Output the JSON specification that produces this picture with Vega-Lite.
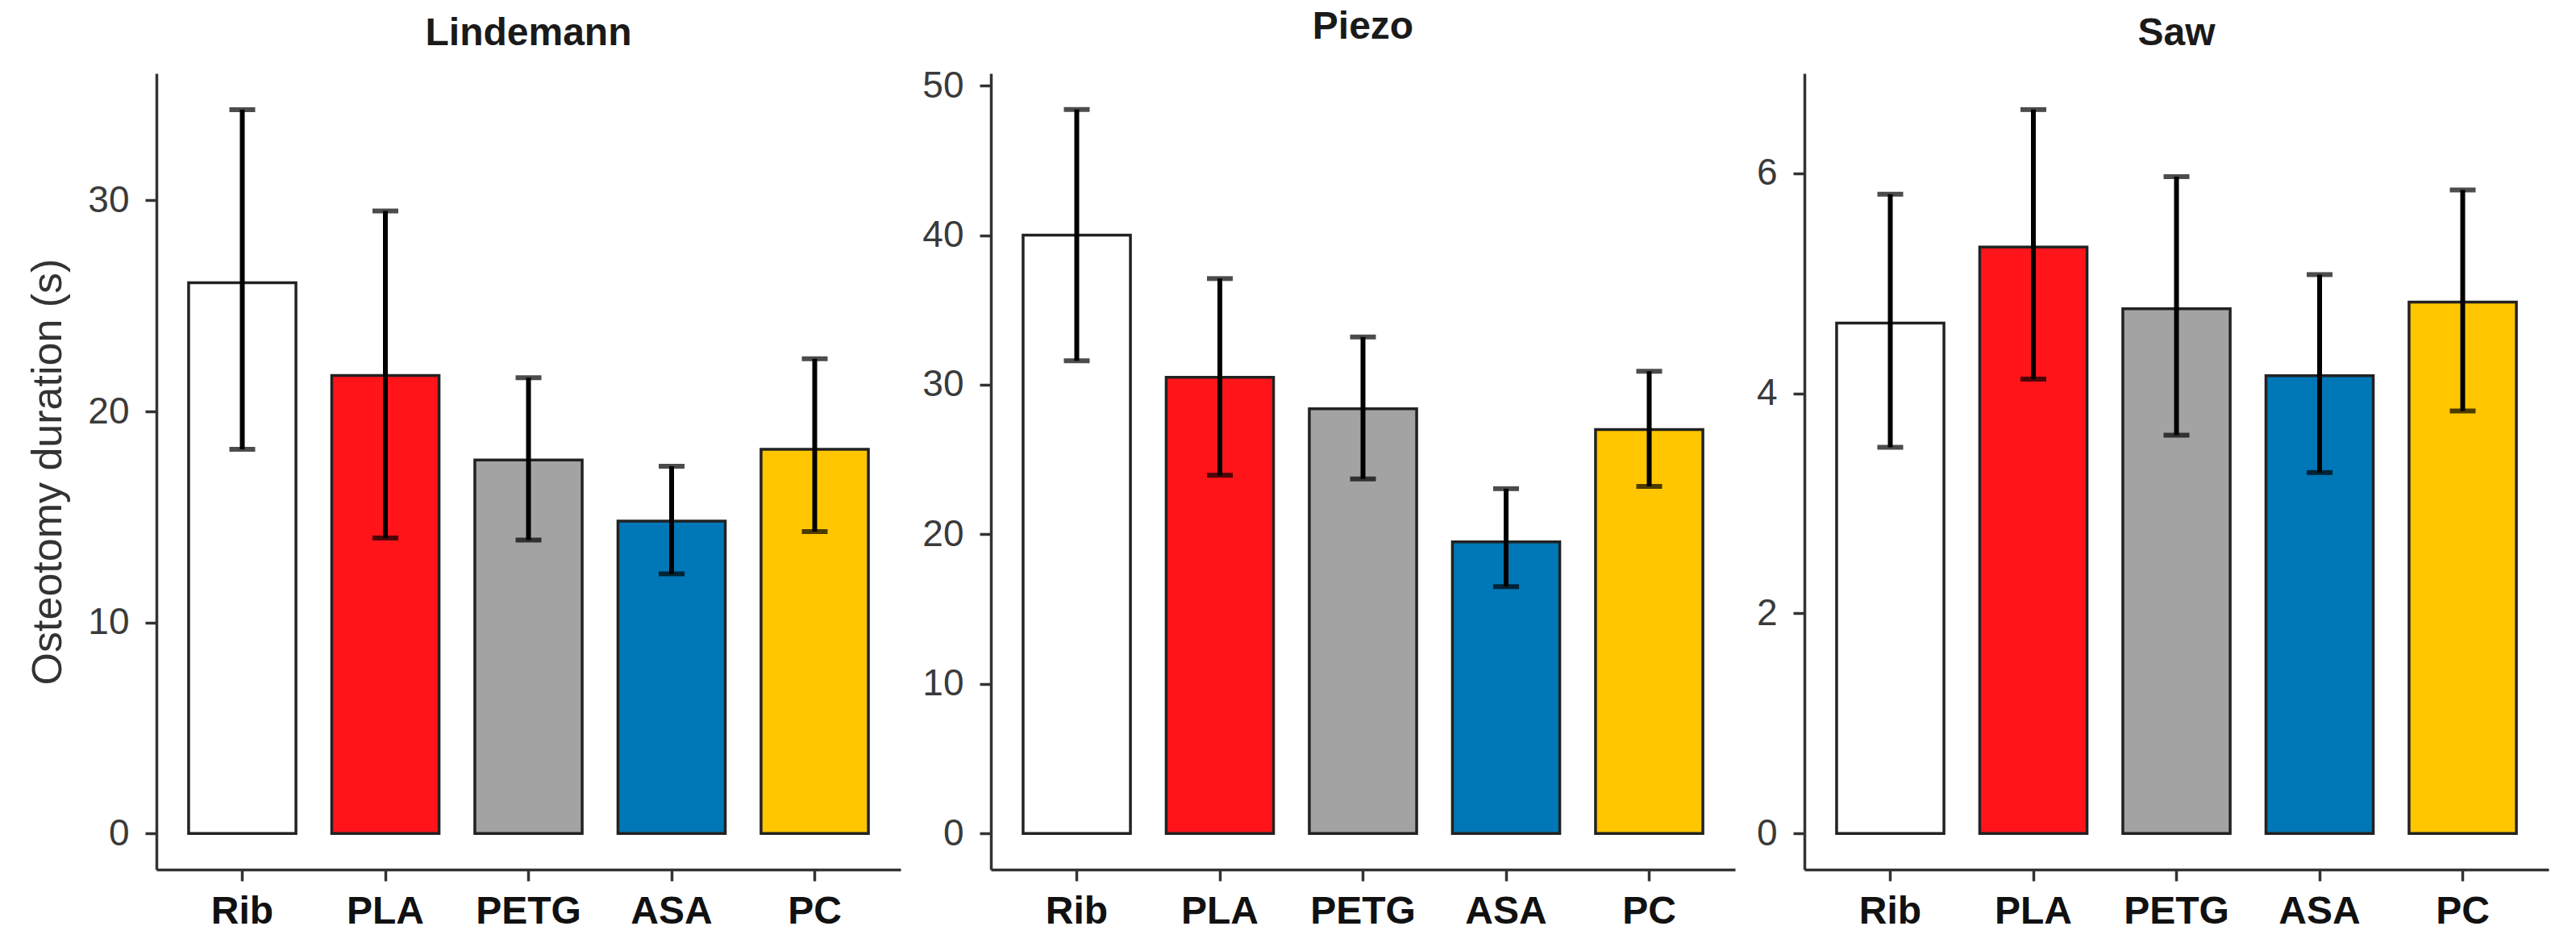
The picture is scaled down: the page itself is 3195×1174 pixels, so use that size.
{
  "$schema": "https://vega.github.io/schema/vega-lite/v6.json",
  "background": "white",
  "padding": {"left": 33, "top": 10, "right": 20, "bottom": 10},
  "datasets": {
    "osteotomy": [
      {"tool": "Lindemann", "material": "Rib", "mean": 26.1, "lo": 18.2, "hi": 34.3},
      {"tool": "Lindemann", "material": "PLA", "mean": 21.7, "lo": 14.0, "hi": 29.5},
      {"tool": "Lindemann", "material": "PETG", "mean": 17.7, "lo": 13.9, "hi": 21.6},
      {"tool": "Lindemann", "material": "ASA", "mean": 14.8, "lo": 12.3, "hi": 17.4},
      {"tool": "Lindemann", "material": "PC", "mean": 18.2, "lo": 14.3, "hi": 22.5},
      {"tool": "Piezo", "material": "Rib", "mean": 40.0, "lo": 31.6, "hi": 48.4},
      {"tool": "Piezo", "material": "PLA", "mean": 30.5, "lo": 23.95, "hi": 37.1},
      {"tool": "Piezo", "material": "PETG", "mean": 28.4, "lo": 23.7, "hi": 33.2},
      {"tool": "Piezo", "material": "ASA", "mean": 19.5, "lo": 16.5, "hi": 23.05},
      {"tool": "Piezo", "material": "PC", "mean": 27.0, "lo": 23.2, "hi": 30.9},
      {"tool": "Saw", "material": "Rib", "mean": 4.64, "lo": 3.51, "hi": 5.81},
      {"tool": "Saw", "material": "PLA", "mean": 5.33, "lo": 4.13, "hi": 6.58},
      {"tool": "Saw", "material": "PETG", "mean": 4.77, "lo": 3.62, "hi": 5.97},
      {"tool": "Saw", "material": "ASA", "mean": 4.16, "lo": 3.28, "hi": 5.08},
      {"tool": "Saw", "material": "PC", "mean": 4.83, "lo": 3.84, "hi": 5.85}
    ]
  },
  "config": {
    "font": "Liberation Sans",
    "view": {"stroke": null},
    "title": {"fontSize": 48, "fontWeight": "bold", "color": "#1a1a1a", "baseline": "alphabetic", "offset": 25, "anchor": "middle"},
    "axis": {
      "grid": false,
      "domainColor": "#333333",
      "domainWidth": 3.5,
      "tickColor": "#333333",
      "tickWidth": 3.5,
      "tickSize": 14
    },
    "axisX": {"labelFontSize": 48, "labelFontWeight": "bold", "labelColor": "#111111", "labelPadding": 14, "labelAngle": 0},
    "axisY": {"labelFontSize": 46, "labelColor": "#3a3a3a", "labelPadding": 20, "titleFontSize": 52, "titleFontWeight": "normal", "titleColor": "#333333", "titlePadding": 22, "format": "d"}
  },
  "spacing": 26,
  "hconcat": [
    {
      "title": "Lindemann",
      "width": 923,
      "height": 987,
      "data": {"name": "osteotomy"},
      "transform": [{"filter": "datum.tool === 'Lindemann'"}],
      "encoding": {
        "x": {"field": "material", "type": "nominal", "sort": ["Rib", "PLA", "PETG", "ASA", "PC"], "scale": {"paddingInner": 0.25, "paddingOuter": 0.225}, "axis": {"title": null}}
      },
      "layer": [
        {
          "mark": {"type": "bar", "stroke": "#222222", "strokeWidth": 3.5},
          "encoding": {
            "y": {"field": "mean", "type": "quantitative", "scale": {"domain": [-1.715, 36.02], "nice": false, "zero": false}, "axis": {"title": "Osteotomy duration (s)", "values": [0, 10, 20, 30]}},
            "y2": {"datum": 0},
            "color": {"field": "material", "type": "nominal", "scale": {"domain": ["Rib", "PLA", "PETG", "ASA", "PC"], "range": ["#ffffff", "#ff141a", "#a3a3a3", "#0077b6", "#ffc600"]}, "legend": null}
          }
        },
        {
          "mark": {"type": "rule", "color": "black", "strokeWidth": 6},
          "encoding": {"y": {"field": "lo", "type": "quantitative"}, "y2": {"field": "hi"}}
        },
        {
          "mark": {"type": "tick", "color": "black", "thickness": 6, "size": 32},
          "encoding": {"y": {"field": "lo", "type": "quantitative"}}
        },
        {
          "mark": {"type": "tick", "color": "black", "thickness": 6, "size": 32},
          "encoding": {"y": {"field": "hi", "type": "quantitative"}}
        }
      ]
    },
    {
      "title": "Piezo",
      "width": 923,
      "height": 987,
      "data": {"name": "osteotomy"},
      "transform": [{"filter": "datum.tool === 'Piezo'"}],
      "encoding": {
        "x": {"field": "material", "type": "nominal", "sort": ["Rib", "PLA", "PETG", "ASA", "PC"], "scale": {"paddingInner": 0.25, "paddingOuter": 0.225}, "axis": {"title": null}}
      },
      "layer": [
        {
          "mark": {"type": "bar", "stroke": "#222222", "strokeWidth": 3.5},
          "encoding": {
            "y": {"field": "mean", "type": "quantitative", "scale": {"domain": [-2.42, 50.82], "nice": false, "zero": false}, "axis": {"title": null, "values": [0, 10, 20, 30, 40, 50]}},
            "y2": {"datum": 0},
            "color": {"field": "material", "type": "nominal", "scale": {"domain": ["Rib", "PLA", "PETG", "ASA", "PC"], "range": ["#ffffff", "#ff141a", "#a3a3a3", "#0077b6", "#ffc600"]}, "legend": null}
          }
        },
        {
          "mark": {"type": "rule", "color": "black", "strokeWidth": 6},
          "encoding": {"y": {"field": "lo", "type": "quantitative"}, "y2": {"field": "hi"}}
        },
        {
          "mark": {"type": "tick", "color": "black", "thickness": 6, "size": 32},
          "encoding": {"y": {"field": "lo", "type": "quantitative"}}
        },
        {
          "mark": {"type": "tick", "color": "black", "thickness": 6, "size": 32},
          "encoding": {"y": {"field": "hi", "type": "quantitative"}}
        }
      ]
    },
    {
      "title": "Saw",
      "width": 923,
      "height": 987,
      "data": {"name": "osteotomy"},
      "transform": [{"filter": "datum.tool === 'Saw'"}],
      "encoding": {
        "x": {"field": "material", "type": "nominal", "sort": ["Rib", "PLA", "PETG", "ASA", "PC"], "scale": {"paddingInner": 0.25, "paddingOuter": 0.225}, "axis": {"title": null}}
      },
      "layer": [
        {
          "mark": {"type": "bar", "stroke": "#222222", "strokeWidth": 3.5},
          "encoding": {
            "y": {"field": "mean", "type": "quantitative", "scale": {"domain": [-0.329, 6.909], "nice": false, "zero": false}, "axis": {"title": null, "values": [0, 2, 4, 6]}},
            "y2": {"datum": 0},
            "color": {"field": "material", "type": "nominal", "scale": {"domain": ["Rib", "PLA", "PETG", "ASA", "PC"], "range": ["#ffffff", "#ff141a", "#a3a3a3", "#0077b6", "#ffc600"]}, "legend": null}
          }
        },
        {
          "mark": {"type": "rule", "color": "black", "strokeWidth": 6},
          "encoding": {"y": {"field": "lo", "type": "quantitative"}, "y2": {"field": "hi"}}
        },
        {
          "mark": {"type": "tick", "color": "black", "thickness": 6, "size": 32},
          "encoding": {"y": {"field": "lo", "type": "quantitative"}}
        },
        {
          "mark": {"type": "tick", "color": "black", "thickness": 6, "size": 32},
          "encoding": {"y": {"field": "hi", "type": "quantitative"}}
        }
      ]
    }
  ]
}
